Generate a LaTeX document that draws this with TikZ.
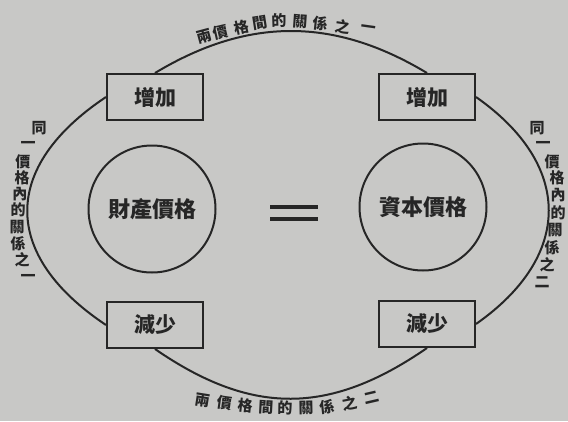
\documentclass[tikz,border=0pt]{standalone}
\usepackage{fontspec}
\newfontfamily\cjk{Noto Sans CJK TC}
\definecolor{paper}{RGB}{200,200,198}
\definecolor{ink}{RGB}{38,38,38}
\tikzset{
 line/.style={draw=ink, line width=2pt},
 box/.style={line, fill=paper, minimum width=96pt, minimum height=46pt, inner sep=0pt, font=\cjk\bfseries\fontsize{21}{21}\selectfont, text=ink},
 ring/.style={line, circle, minimum size=127pt, inner sep=0pt, font=\cjk\bfseries\fontsize{22}{22}\selectfont, text=ink},
 lab/.style={inner sep=0pt, font=\cjk\bfseries\fontsize{15}{15}\selectfont, text=ink},
}
\begin{document}
\begin{tikzpicture}[x=1pt,y=-1pt]
\fill[paper] (0,0) rectangle (568,421);
\useasboundingbox (0,0) rectangle (568,421);
% boxes
\node[box] (tl) at (155,97) {增加};
\node[box] (tr) at (427,97) {增加};
\node[box] (bl) at (155,325) {減少};
\node[box] (br) at (427,324) {減少};
% circles
\node[ring] (lc) at (152,209) {財產價格};
\node[ring] (rc) at (423,207) {資本價格};
% outer loop
\draw[line] (tl.north) .. controls +(93,-56) and +(-93,-56) .. (tr.north);
\draw[line] (tr.east) .. controls +(97,68) and +(97,-68) .. (br.east);
\draw[line] (tl.west) .. controls +(-105,70) and +(-105,-70) .. (bl.west);
\draw[line] (bl.south) .. controls +(97,67) and +(-97,67) .. (br.south);
% equals sign
\fill[ink] (270,205) rectangle (318,208.5);
\fill[ink] (270,217) rectangle (318,220.5);
% top label
\foreach \c/\x/\y/\r [count=\i] in {兩/204/36/15, 價/221/32/13, 格/242/27/12, 間/260/23/9, 的/279/21/2, 關/300/22/-4, 係/321/24/-6, 之/343/27/-8, 一/368/29/-8}
  \node[lab, rotate=\r] (top\i) at (\x,\y) {\c};
% bottom label
\foreach \c/\x/\y/\r [count=\i] in {兩/203/400/-9, 價/225/403/-8, 格/246/406/-6, 間/266/407/-3, 的/285/408/-1, 關/306/408/1, 係/327/407/6, 之/350/403/11, 二/372/398/13}
  \node[lab, rotate=\r] (bot\i) at (\x,\y) {\c};
% left label
\foreach \c/\x/\y [count=\i] in {同/39/128, 一/28/145, 價/23/162, 格/22/178, 內/20/194, 的/18/210, 關/17/227, 係/18/244, 之/22/260, 一/28/278}
  \node[lab] (left\i) at (\x,\y) {\c};
% right label
\foreach \c/\x/\y [count=\i] in {同/537/128, 一/543/145, 價/552/162, 格/557/178, 內/558/195, 的/558/213, 關/555/230, 係/552/248, 之/547/265, 二/542/282}
  \node[lab] (right\i) at (\x,\y) {\c};
\end{tikzpicture}
\end{document}
